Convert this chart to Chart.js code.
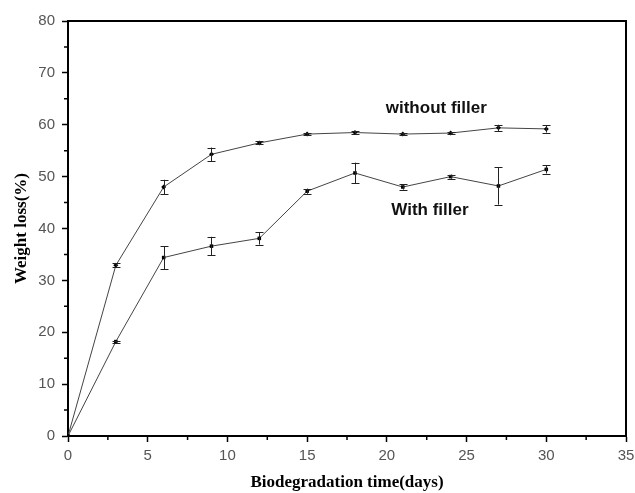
<!DOCTYPE html>
<html lang="en">
<head>
  <meta charset="UTF-8">
  <title>Weight loss</title>
  <script src="https://cdn.jsdelivr.net/npm/chart.js"></script>
  <style>
    html, body { margin: 0; padding: 0; background: #fff; }
    #box { width: 635px; height: 493px; }
  </style>
</head>
<body>
  <div id="box"><canvas id="grafico_peso"></canvas></div>

<script>
  const dias = [0, 3, 6, 9, 12, 15, 18, 21, 24, 27, 30];
  const semCarga = [0, 32.9, 48.0, 54.3, 56.5, 58.2, 58.5, 58.2, 58.4, 59.4, 59.2];
  const semCargaErro = [0, 0.4, 1.4, 1.3, 0.3, 0.2, 0.3, 0.2, 0.2, 0.6, 0.7];
  const comCarga = [0, 18.2, 34.4, 36.6, 38.1, 47.2, 50.7, 48.0, 50.0, 48.2, 51.4];
  const comCargaErro = [0, 0.2, 2.2, 1.8, 1.2, 0.5, 2.0, 0.5, 0.4, 3.6, 0.8];
  const rotulos = [
    { texto: 'without filler', x: 23.1, y: 63.2 },
    { texto: 'With filler', x: 22.7, y: 43.5 }
  ];

  // barras de erro, caixa e ticks menores
  const extras = {
    id: 'extras',
    afterDatasetsDraw(chart) {
      const ctx = chart.ctx;
      const xs = chart.scales.x, ys = chart.scales.y;
      const erros = [semCargaErro, comCargaErro];
      ctx.save();
      ctx.strokeStyle = '#222';
      ctx.lineWidth = 1;
      chart.data.datasets.forEach((ds, i) => {
        ds.data.forEach((p, j) => {
          const e = erros[i][j];
          if (!e) return;
          const px = Math.round(xs.getPixelForValue(p.x)) + 0.5;
          const y1 = ys.getPixelForValue(p.y + e);
          const y2 = ys.getPixelForValue(p.y - e);
          ctx.beginPath();
          ctx.moveTo(px, y1); ctx.lineTo(px, y2);
          ctx.moveTo(px - 4, Math.round(y1) + 0.5); ctx.lineTo(px + 4, Math.round(y1) + 0.5);
          ctx.moveTo(px - 4, Math.round(y2) + 0.5); ctx.lineTo(px + 4, Math.round(y2) + 0.5);
          ctx.stroke();
        });
      });

      const a = chart.chartArea;
      ctx.strokeStyle = '#000';
      ctx.lineWidth = 2;
      ctx.beginPath();
      ctx.moveTo(a.left, a.top); ctx.lineTo(a.right, a.top); ctx.lineTo(a.right, a.bottom);
      ctx.stroke();

      ctx.lineWidth = 1.5;
      ctx.beginPath();
      for (let v = 2.5; v < 35; v += 5) {
        const px = xs.getPixelForValue(v);
        ctx.moveTo(px, a.bottom); ctx.lineTo(px, a.bottom + 4);
      }
      for (let v = 5; v < 80; v += 10) {
        const py = ys.getPixelForValue(v);
        ctx.moveTo(a.left, py); ctx.lineTo(a.left - 4, py);
      }
      ctx.stroke();

      ctx.fillStyle = '#111';
      ctx.font = 'bold 17px Arial, "Liberation Sans", sans-serif';
      ctx.textAlign = 'center';
      ctx.textBaseline = 'middle';
      rotulos.forEach(r => {
        ctx.fillText(r.texto, xs.getPixelForValue(r.x), ys.getPixelForValue(r.y));
      });
      ctx.restore();
    }
  };

  const data = {
    datasets: [{
      label: 'without filler',
      data: dias.map((d, i) => ({ x: d, y: semCarga[i] })),
      borderColor: '#444',
      borderWidth: 1,
      backgroundColor: '#000',
      pointStyle: 'rectRot',
      pointRadius: 2.5,
      pointBorderWidth: 0
    }, {
      label: 'With filler',
      data: dias.map((d, i) => ({ x: d, y: comCarga[i] })),
      borderColor: '#444',
      borderWidth: 1,
      backgroundColor: '#000',
      pointStyle: 'rect',
      pointRadius: 2.5,
      pointBorderWidth: 0
    }]
  };

  const fonteTick = { family: 'Arial, "Liberation Sans", sans-serif', size: 15 };
  const fonteTitulo = { family: '"Liberation Serif", "Times New Roman", serif', size: 17, weight: 'bold' };

  const config = {
    type: 'line',
    data: data,
    options: {
      responsive: true,
      maintainAspectRatio: false,
      animation: false,
      layout: { padding: { top: 21, right: 9, left: 0, bottom: 0 } },
      plugins: { legend: { display: false }, tooltip: { enabled: false } },
      scales: {
        x: {
          type: 'linear',
          min: 0, max: 35,
          afterFit: s => { s.height = 57; s.paddingRight = 0; s.paddingLeft = 0; },
          ticks: { stepSize: 5, color: '#555', font: fonteTick, padding: 5, maxRotation: 0 },
          grid: { drawOnChartArea: false, tickLength: 6, tickColor: '#000', tickWidth: 1.5 },
          border: { color: '#000', width: 2 },
          title: { display: true, text: 'Biodegradation time(days)', color: '#000', font: fonteTitulo, padding: { top: 8, bottom: 0 } }
        },
        y: {
          min: 0, max: 80,
          afterFit: s => { s.width = 68; s.paddingTop = 0; s.paddingBottom = 0; },
          ticks: { stepSize: 10, color: '#555', font: fonteTick, padding: 7 },
          grid: { drawOnChartArea: false, tickLength: 6, tickColor: '#000', tickWidth: 1.5 },
          border: { color: '#000', width: 2 },
          title: { display: true, text: 'Weight loss(%)', color: '#000', font: fonteTitulo, padding: { top: 11, bottom: 0 } }
        }
      }
    },
    plugins: [extras]
  };

  const myChart = new Chart(document.getElementById('grafico_peso'), config);
</script>
</body>
</html>
